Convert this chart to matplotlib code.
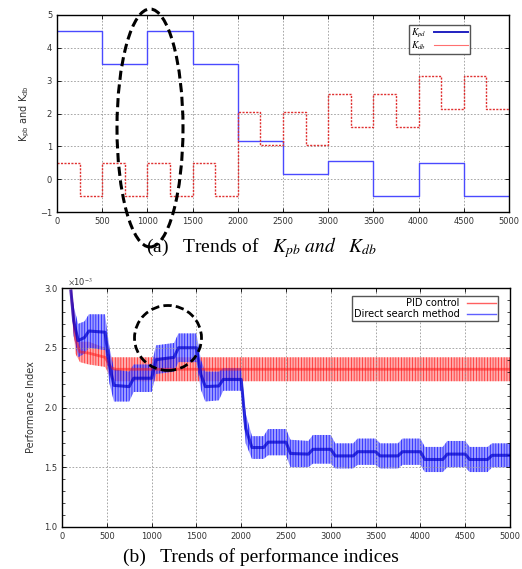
import numpy as np
import matplotlib
matplotlib.use('Agg')
import matplotlib.pyplot as plt
from matplotlib.patches import Ellipse
from matplotlib.lines import Line2D

plt.rcParams['mathtext.fontset'] = 'stix'
plt.rcParams['hatch.linewidth'] = 0.5

# ── (a) gains, step values ────────────────────────────────────────────────
kpb_t = [0, 500, 1000, 1500, 2000, 2500, 3000, 3500, 4000, 4500, 5000]
kpb_v = [4.5, 3.5, 4.5, 3.5, 1.15, 0.15, 0.55, -0.5, 0.5, -0.5, -0.5]

kdb_t = [0, 250, 500, 750, 1000, 1250, 1500, 1750, 2000, 2250, 2500, 2750,
         3000, 3250, 3500, 3750, 4000, 4250, 4500, 4750, 5000]
kdb_v = [0.5, -0.5, 0.5, -0.5, 0.5, -0.5, 0.5, -0.5, 2.05, 1.05, 2.05, 1.05,
         2.6, 1.6, 2.6, 1.6, 3.15, 2.15, 3.15, 2.15, 2.15]

# ── (b) performance index envelopes (x1e-3) ──────────────────────────────
pid_t  = [100, 150, 200, 300, 480, 550, 600, 5000]
pid_hi = [3.0, 2.70, 2.55, 2.55, 2.50, 2.42, 2.42, 2.42]
pid_lo = [2.95, 2.45, 2.38, 2.36, 2.34, 2.24, 2.22, 2.22]

ds_t  = [100, 130, 180, 250, 300, 480, 530, 580, 750, 800, 1000, 1050, 1250,
         1300, 1500, 1550, 1600, 1750, 1800, 2000, 2050, 2120, 2250, 2300,
         2500, 2550, 2750, 2800, 3000, 3050, 3250, 3300, 3500, 3550, 3750,
         3800, 4000, 4050, 4250, 4300, 4500, 4550, 4750, 4800, 5000]
ds_hi = [3.0, 2.85, 2.70, 2.72, 2.78, 2.78, 2.50, 2.32, 2.30, 2.36, 2.36,
         2.52, 2.54, 2.62, 2.62, 2.40, 2.30, 2.30, 2.33, 2.33, 1.95, 1.76,
         1.76, 1.82, 1.82, 1.73, 1.72, 1.77, 1.77, 1.70, 1.70, 1.74, 1.74,
         1.70, 1.70, 1.74, 1.74, 1.67, 1.67, 1.72, 1.72, 1.67, 1.67, 1.70, 1.70]
ds_lo = [2.95, 2.60, 2.42, 2.45, 2.50, 2.48, 2.20, 2.05, 2.05, 2.13, 2.13,
         2.28, 2.30, 2.38, 2.38, 2.15, 2.05, 2.06, 2.14, 2.14, 1.70, 1.57,
         1.57, 1.60, 1.60, 1.50, 1.50, 1.53, 1.53, 1.49, 1.49, 1.52, 1.52,
         1.49, 1.49, 1.52, 1.52, 1.46, 1.46, 1.50, 1.50, 1.46, 1.46, 1.50, 1.50]

xticks = list(range(0, 5001, 500))

W, H = 522, 569
fig = plt.figure(figsize=(W / 100, H / 100), dpi=100)

def style_axes(ax):
    ax.tick_params(direction='in', top=True, right=True, labelsize=6,
                   labelcolor='#333333', length=3, width=0.6)
    ax.grid(True, color='#999999', linestyle=(0, (2, 2)), linewidth=0.6)
    for s in ax.spines.values():
        s.set_linewidth(1.0)
    ax.set_xlim(0, 5000)
    ax.set_xticks(xticks)

# ─ (a) ───────────────────────────────────────────────────────────────────
ax1 = fig.add_axes([57 / W, 1 - 212 / H, 452 / W, 197 / H])
ax1.step(kpb_t, kpb_v, where='post', color='#4a4aff', lw=1.0, label='$K_{pd}$')
ax1.step(kdb_t, kdb_v, where='post', color='#e03030', lw=1.0,
         linestyle=(0, (1.5, 1)), label='$K_{db}$')
ax1.set_ylim(-1, 5)
style_axes(ax1)
ax1.set_ylabel('$\\mathregular{K_{pb}}$ and $\\mathregular{K_{db}}$', fontsize=7,
               color='#333333', labelpad=6)
leg_h = [Line2D([0], [0], color='#2020c0', lw=1.4),
         Line2D([0], [0], color='#ff7070', lw=0.8)]
ax1.legend(leg_h, ['$K_{pd}$', '$K_{db}$'], loc='upper right',
           bbox_to_anchor=(0.925, 0.975), fontsize=7,
           markerfirst=False, handlelength=3.5, fancybox=False, framealpha=1,
           edgecolor='#555555', borderpad=0.2, labelspacing=0.0)

fig.text(0.5, 1 - 248 / H, '(a)   Trends of   $K_{pb}$ $and$   $K_{db}$',
         ha='center', va='center', fontsize=14, family='Liberation Serif')

# ─ (b) ───────────────────────────────────────────────────────────────────
ax2 = fig.add_axes([62 / W, 1 - 527 / H, 448 / W, 239 / H])
ax2.fill_between(pid_t, pid_lo, pid_hi, facecolor=(1, 0.45, 0.45, 0.6),
                 edgecolor='#ff2020', hatch='||||||', linewidth=0)
pid_mid = (np.array(pid_hi) + np.array(pid_lo)) / 2
ax2.plot(pid_t, pid_mid, color='#ff1010', lw=2, alpha=0.5)
ax2.fill_between(ds_t, ds_lo, ds_hi, facecolor=(0.35, 0.35, 1, 0.6),
                 edgecolor='#1010ff', hatch='||||||', linewidth=0)
ds_mid = (np.array(ds_hi) + np.array(ds_lo)) / 2
ax2.plot(ds_t, ds_mid, color='#0000cc', lw=2.2, alpha=0.7)
ax2.set_ylim(1.0, 3.0)
ax2.set_yticks([1.0, 1.5, 2.0, 2.5, 3.0])
ax2.set_yticklabels(['1.0', '1.5', '2.0', '2.5', '3.0'])
ax2.set_yticks(np.arange(1.0, 3.01, 0.1), minor=True)
style_axes(ax2)
ax2.tick_params(which='minor', direction='in', right=True, length=2, width=0.5)
ax2.set_ylabel('Performance Index', fontsize=7, color='#333333', labelpad=6)
handles = [Line2D([0], [0], color='#ff6060', lw=1.0),
           Line2D([0], [0], color='#6060ff', lw=1.0)]
ax2.legend(handles, ['PID control', 'Direct search method'], loc='upper right',
           bbox_to_anchor=(0.985, 0.985), fontsize=7, markerfirst=False,
           handlelength=3, fancybox=False, framealpha=1, edgecolor='#555555',
           borderpad=0.2, labelspacing=0.1)
fig.text(68 / W, 1 - 282 / H, '$\\times$10$^{-3}$', fontsize=6, color='#333333',
         ha='left', va='center')

fig.text(0.5, 1 - 557 / H, '(b)   Trends of performance indices',
         ha='center', va='center', fontsize=14, family='Liberation Serif')

# ─ dashed highlights ─────────────────────────────────────────────────────
fig.add_artist(Ellipse((150 / W, 1 - 128 / H), 66 / W, 238 / H, angle=0,
                       transform=fig.transFigure, fill=False, color='black',
                       lw=2.2, linestyle=(0, (3, 1.5))))
fig.add_artist(Ellipse((168 / W, 1 - 338 / H), 67 / W, 65 / H,
                       transform=fig.transFigure, fill=False, color='black',
                       lw=2.0, linestyle=(0, (3, 1.5))))

fig.savefig('out.png', dpi=100)
